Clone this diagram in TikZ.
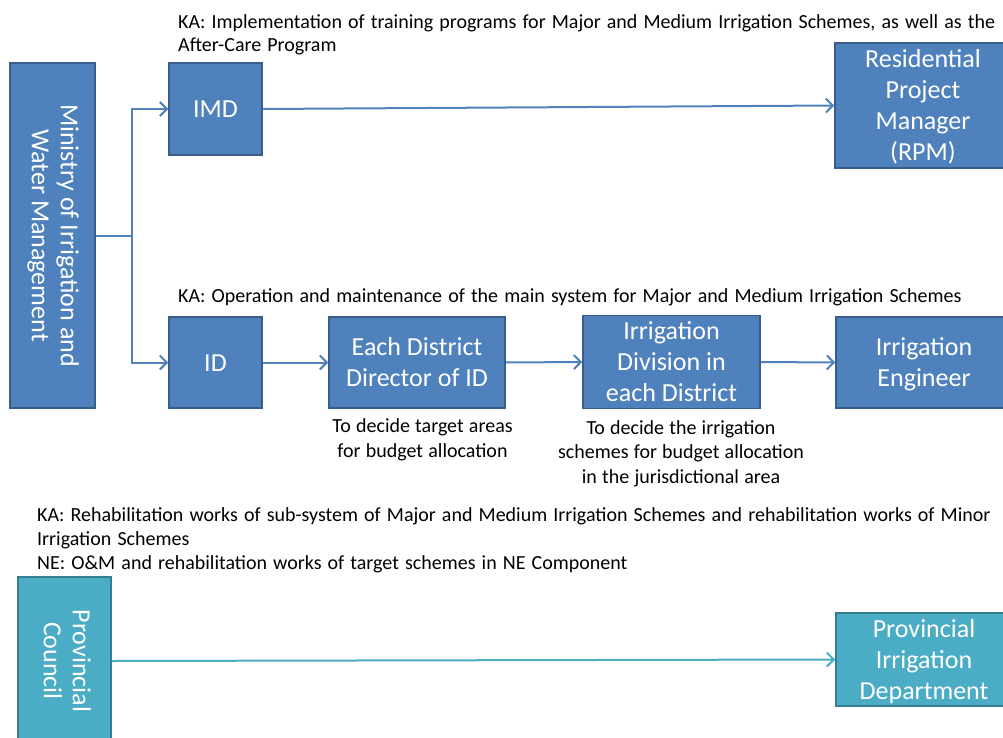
\documentclass[tikz,border=0pt]{standalone}
\usepackage{fontspec}
\setmainfont{Carlito}
\usetikzlibrary{arrows.meta}
\definecolor{boxblue}{HTML}{4F81BD}
\definecolor{edgeblue}{HTML}{385D8A}
\definecolor{boxteal}{HTML}{4BACC6}
\definecolor{edgeteal}{HTML}{357D91}
% uniform line box for the text inside the boxes
\newcommand\lbox{\rule[-4.5pt]{0pt}{26.5pt}}
% fonts for the annotations
\newcommand\notefont{\fontsize{20}{24}\selectfont\spaceskip 6.1pt plus 1pt minus 1pt\relax}
\newcommand\topnotefont{\fontsize{20}{23}\selectfont\spaceskip 6.1pt plus 1pt minus 1pt\relax}
\newcommand\subnotefont{\fontsize{20}{24.5}\selectfont\spaceskip 5.2pt plus 1pt minus 1pt\relax}
\begin{document}
\begin{tikzpicture}[x=1pt,y=-1pt,
  unit/.style={draw=edgeblue,fill=boxblue,line width=1.5pt,text=white,
    inner sep=0pt,align=center,font=\fontsize{26}{31}\selectfont},
  tealunit/.style={unit,draw=edgeteal,fill=boxteal},
  note/.style={inner sep=0pt,align=left,text=black,font=\notefont},
  subnote/.style={inner sep=0pt,align=center,text=black,font=\subnotefont},
  link/.style={draw=boxblue,line width=2pt,-{Straight Barb[length=7pt,width=14pt,line width=2pt]}},
  plainlink/.style={draw=boxblue,line width=2pt},
  teallink/.style={link,draw=boxteal}]
\useasboundingbox (0,0) rectangle (1003,738);
\clip (0,0) rectangle (1003,738);

% Ministry branch
\node[unit,minimum width=85pt,minimum height=345pt] (min) at (52.5,235.5)
  {\rotatebox{-90}{\begin{tabular}{@{}c@{}}Ministry of Irrigation and\\[-2pt]Water Management\end{tabular}}};
\node[unit,minimum width=93pt,minimum height=92pt] (imd) at (215.5,109) {IMD\lbox};
\node[unit,minimum width=93pt,minimum height=91pt] (id) at (215.5,362.5) {ID\lbox};
\node[unit,minimum width=176pt,minimum height=125pt] (rpm) at (923,105.5)
  {Residential\lbox\\Project\lbox\\Manager\lbox\\(RPM)\lbox};
\node[unit,minimum width=176pt,minimum height=91pt] (dir) at (417,362.5)
  {Each District\lbox\\Director of ID\lbox};
\node[unit,minimum width=177pt,minimum height=93pt] (div) at (671.5,362)
  {Irrigation\lbox\\Division in\lbox\\each District\lbox};
\node[unit,minimum width=176pt,minimum height=91pt] (eng) at (924,362.5)
  {Irrigation\lbox\\Engineer\lbox};

% Provincial branch
\node[tealunit,minimum width=93pt,minimum height=168pt] (pc) at (64.5,661)
  {\rotatebox{-90}{\begin{tabular}{@{}c@{}}Provincial\\[-2pt]Council\end{tabular}}};
\node[tealunit,minimum width=176pt,minimum height=93pt] (pid) at (924,659.5)
  {Provincial\lbox\\Irrigation\lbox\\Department\lbox};

% Connectors
\draw[plainlink] (min.east) -- ++(36,0) coordinate (fork);
\draw[link] (fork) |- (imd.west);
\draw[link] (fork) |- (id.west);
\draw[link] (imd.east) -- (rpm.west);
\draw[link] (id.east) -- (dir.west);
\draw[link] (dir.east) -- (div.west);
\draw[link] (div.east) -- (eng.west);
\draw[teallink] (pc.east) -- (pid.west);

% Key activities (base anchor = baseline of the last line)
\node[note,anchor=base west,font=\topnotefont] (kaimd) at (178,52)
  {KA: Implementation of training programs for Major and Medium Irrigation Schemes, as well as the\\After-Care Program};
\node[note,anchor=base west] (kaid) at (178,302)
  {KA: Operation and maintenance of the main system for Major and Medium Irrigation Schemes};
\node[note,anchor=base west] (kapc) at (37,569)
  {KA: Rehabilitation works of sub-system of Major and Medium Irrigation Schemes and rehabilitation works of Minor\\Irrigation Schemes\\NE: O\&M and rehabilitation works of target schemes in NE Component};

% Notes under the district boxes
\node[subnote,anchor=base] (dirnote) at (422.5,457)
  {To decide target areas\\for budget allocation};
\node[subnote,anchor=base] (divnote) at (681,483)
  {To decide the irrigation\\schemes for budget allocation\\in the jurisdictional area};
\end{tikzpicture}
\end{document}
